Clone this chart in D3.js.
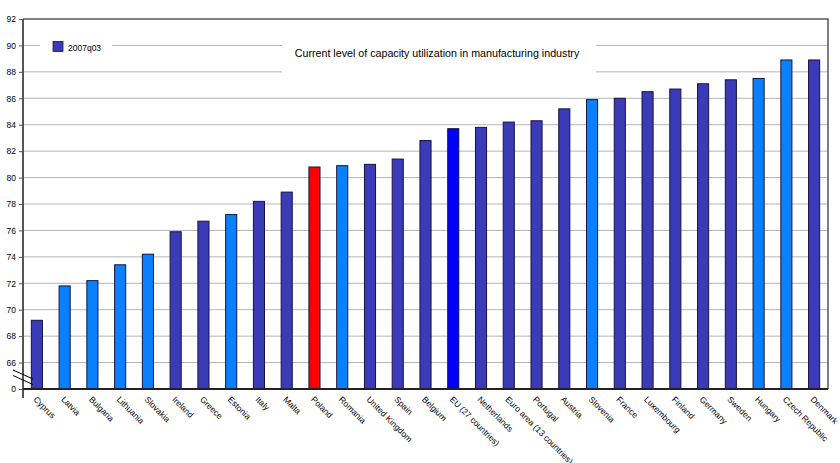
<!DOCTYPE html>
<html><head><meta charset="utf-8">
<script src="https://cdn.jsdelivr.net/npm/d3@7/dist/d3.min.js"></script>
<style>
html,body{margin:0;padding:0;background:#fff;}
svg{display:block;font-family:"Liberation Sans",Arial,sans-serif;}
</style></head>
<body>
<svg id="chart" width="840" height="463"></svg>
<script>
const categories = ["Cyprus","Latvia","Bulgaria","Lithuania","Slovakia","Ireland","Greece","Estonia","Italy","Malta","Poland","Romania","United Kingdom","Spain","Belgium","EU (27 countries)","Netherlands","Euro area (13 countries)","Portugal","Austria","Slovenia","France","Luxembourg","Finland","Germany","Sweden","Hungary","Czech Republic","Denmark"];
const values = [69.2,71.8,72.2,73.4,74.2,75.9,76.7,77.2,78.2,78.9,80.8,80.9,81.0,81.4,82.8,83.7,83.8,84.2,84.3,85.2,85.9,86.0,86.5,86.7,87.1,87.4,87.5,88.9,88.9];
const lightCountries = ["Latvia","Bulgaria","Lithuania","Slovakia","Estonia","Romania","Slovenia","Hungary","Czech Republic"];
const redCountries = ["Poland"];
const aggregateCountries = ["EU (27 countries)"];
const seriesName = "2007q03";
const title = "Current level of capacity utilization in manufacturing industry";
const yTicks = [64,66,68,70,72,74,76,78,80,82,84,86,88,90,92];
const yTickLabels = ["0","66","68","70","72","74","76","78","80","82","84","86","88","90","92"];

const colors = {base:"#3b3bb8", light:"#0a80ff", red:"#ff0000", agg:"#0000ff"};
function colorOf(c){
  if (redCountries.includes(c)) return colors.red;
  if (aggregateCountries.includes(c)) return colors.agg;
  if (lightCountries.includes(c)) return colors.light;
  return colors.base;
}

const svg = d3.select("#chart");
const pL = 23, pR = 828, pT = 19, pB = 389;

const x = d3.scaleBand().domain(categories).range([pL, pR]).paddingInner(0.6).paddingOuter(0.3);
const y = d3.scaleLinear().domain([64, 92]).range([pB, pT]);

// gridlines
svg.append("g").selectAll("line").data(yTicks.filter(t => t > 64 && t < 92)).join("line")
  .attr("x1", pL).attr("x2", pR)
  .attr("y1", d => y(d)).attr("y2", d => y(d))
  .attr("stroke", "#b4b4b4").attr("stroke-width", 1);

// frame top & right
svg.append("path").attr("d", `M${pL},${y(92)}H${pR}V${pB}`)
  .attr("fill","none").attr("stroke","#555").attr("stroke-width",1.5);

// legend and title boxes (white background)
svg.append("rect").attr("x", 40).attr("y", 35).attr("width", 72).attr("height", 20).attr("fill","#fff");
svg.append("rect").attr("x", 282).attr("y", 33).attr("width", 314).attr("height", 44).attr("fill","#fff");

svg.append("rect").attr("x", 53).attr("y", 41.5).attr("width", 10).attr("height", 10)
  .attr("fill", colors.base).attr("stroke","#1a1a40").attr("stroke-width",0.8);
svg.append("text").attr("x", 68).attr("y", 50.5).attr("font-size", 8.5).attr("fill","#000").text(seriesName);

svg.append("text").attr("x", 437).attr("y", 57).attr("text-anchor","middle")
  .attr("font-size", 10.7).attr("fill","#000").text(title);

// bars
svg.append("g").selectAll("rect").data(categories.map((c,i)=>({c, v: values[i]}))).join("rect")
  .attr("x", d => x(d.c)).attr("width", x.bandwidth())
  .attr("y", d => y(d.v)).attr("height", d => pB - y(d.v))
  .attr("fill", d => colorOf(d.c))
  .attr("stroke", "#141440").attr("stroke-width", 1);

// y axis
const yAxis = d3.axisLeft(y).tickValues(yTicks).tickSize(4).tickPadding(3)
  .tickFormat((d,i) => yTickLabels[i]);
const ga = svg.append("g").attr("transform", `translate(${pL},0)`).call(yAxis);
ga.select(".domain").remove();
ga.selectAll(".tick line").attr("stroke","#555");
ga.selectAll(".tick text").attr("font-size", 8.5).attr("fill","#000").attr("font-family","Liberation Sans, Arial, sans-serif");
svg.append("line").attr("x1", pL).attr("x2", pL).attr("y1", pT).attr("y2", pB + 9)
  .attr("stroke","#555").attr("stroke-width",2);

// bottom axis
svg.append("line").attr("x1", pL).attr("x2", pR).attr("y1", pB).attr("y2", pB)
  .attr("stroke","#222").attr("stroke-width",2);

// axis break marks
svg.append("line").attr("x1",13).attr("y1",370).attr("x2",33).attr("y2",379).attr("stroke","#000").attr("stroke-width",1);
svg.append("line").attr("x1",13).attr("y1",375.5).attr("x2",33).attr("y2",384.5).attr("stroke","#000").attr("stroke-width",1);

// x labels
svg.append("g").selectAll("text").data(categories).join("text")
  .attr("transform", d => `translate(${x(d) + x.bandwidth()/2 - 4},${pB + 11}) rotate(45)`)
  .attr("font-size", 8.5).attr("fill","#000").text(d => d);
</script>
</body></html>
